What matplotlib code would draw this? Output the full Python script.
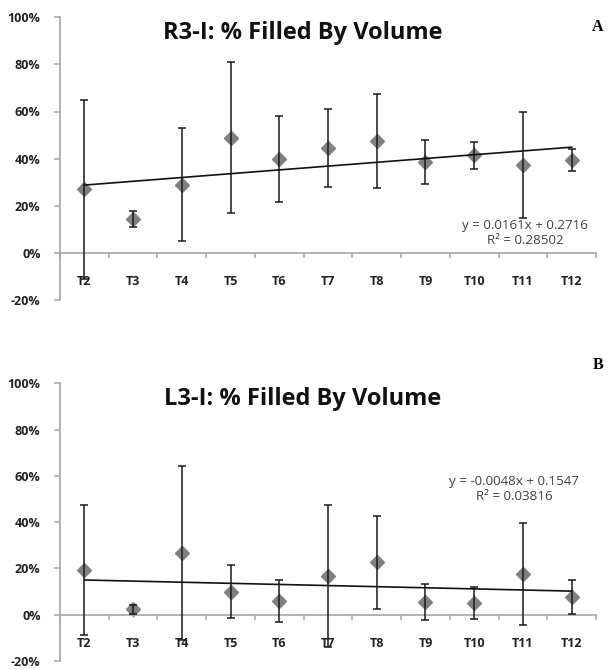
import numpy as np
import matplotlib.pyplot as plt

# data (percent)
cats = ['T2','T3','T4','T5','T6','T7','T8','T9','T10','T11','T12']
r3_mean = [27, 14.4, 29, 48.9, 39.7, 44.5, 47.4, 38.7, 41.5, 37.5, 39.5]
r3_err = [38, 3.3, 24, 32, 18.3, 16.5, 20, 9.4, 5.7, 22.5, 4.6]
l3_mean = [19.4, 2.4, 26.6, 10, 5.8, 16.8, 22.6, 5.5, 5, 17.7, 7.6]
l3_err = [28, 2, 37.7, 11.3, 9, 30.7, 20, 7.8, 7, 22, 7.3]
r3_fit = [0.0161, 0.2716]
l3_fit = [-0.0048, 0.1547]
r3_eq = 'y = 0.0161x + 0.2716\nR² = 0.28502'
l3_eq = 'y = -0.0048x + 0.1547\nR² = 0.03816'
yticks = [-20, 0, 20, 40, 60, 80, 100]
ylabels = ['-20%', '0%', '20%', '40%', '60%', '80%', '100%']

font = 'Open Sans'

def draw_panel(ax, title, mean, err, fit, eq, eq_pos):
    x = np.arange(1, len(cats)+1)
    ax.plot(x, mean, 'D', color='#808080', ms=7.5, zorder=2)
    ax.errorbar(x, mean, yerr=err, fmt='none', ecolor='#1a1a1a', elinewidth=1.1,
                capsize=3, capthick=1.1, zorder=3)
    xf = np.array([x[0], x[-1]])
    ax.plot(xf, (fit[0]*xf + fit[1])*100, color='#111111', lw=1.2, zorder=4)
    ax.set_xlim(0.5, len(cats)+0.5)
    ax.set_ylim(-20, 100)
    ax.spines['top'].set_visible(False)
    ax.spines['right'].set_visible(False)
    ax.spines['bottom'].set_position(('data', 0))
    for s in ['left', 'bottom']:
        ax.spines[s].set_color('#a6a6a6')
        ax.spines[s].set_linewidth(1.2)
    ax.set_yticks(yticks)
    ax.set_yticklabels(ylabels, fontfamily=font, fontweight='bold', fontsize=9)
    ax.tick_params(axis='y', length=4, width=1.1, color='#a6a6a6', pad=10, labelcolor='#222222')
    ax.set_xticks(x)
    ax.set_xticklabels(cats, fontfamily=font, fontweight='bold', fontsize=9)
    ax.tick_params(axis='x', which='major', length=0, pad=16, labelcolor='#222222')
    ax.set_xticks(np.arange(0.5, len(cats)+1), minor=True)
    ax.tick_params(axis='x', which='minor', length=3.5, width=1.1, color='#a6a6a6')
    ax.text(0.452, 0.945, title, transform=ax.transAxes, ha='center', va='center',
            fontfamily=font, fontweight='bold', fontsize=17, color='#111111')
    ax.text(eq_pos[0], eq_pos[1], eq, ha='center', va='center', fontfamily=font,
            fontsize=9.6, color='#404040', linespacing=1.15)
    return ax

fig = plt.figure(figsize=(6.08, 6.69), dpi=100)
ax1 = fig.add_axes([0.0987, 0.5516, 0.8816, 0.4226])
ax2 = fig.add_axes([0.0987, 0.0120, 0.8816, 0.4151])
draw_panel(ax1, 'R3-I: % Filled By Volume', r3_mean, r3_err, r3_fit, r3_eq, (10.05, 8.4))
draw_panel(ax2, 'L3-I: % Filled By Volume', l3_mean, l3_err, l3_fit, l3_eq, (9.82, 54.4))
fig.text(598/608, 1-27/669, 'A', ha='center', va='center', fontfamily='Liberation Serif',
         fontweight='bold', fontsize=11.5)
fig.text(598/608, 1-365/669, 'B', ha='center', va='center', fontfamily='Liberation Serif',
         fontweight='bold', fontsize=11.5)
fig.savefig('out.png', dpi=100)
